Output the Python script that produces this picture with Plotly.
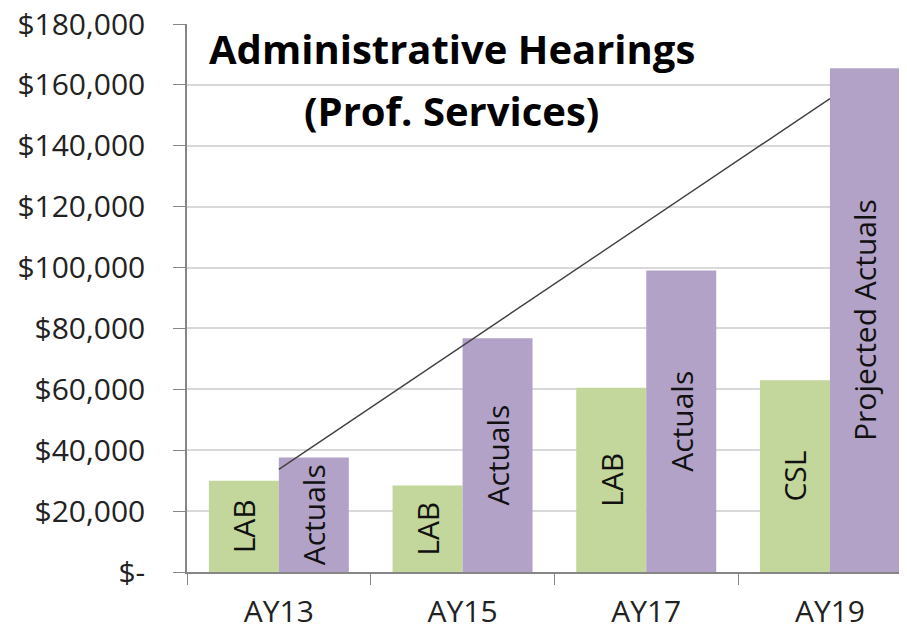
import plotly.graph_objects as go

# values
years = ["AY13", "AY15", "AY17", "AY19"]
budget = [30000, 28400, 60500, 63000]
budget_labels = ["LAB", "LAB", "LAB", "CSL"]
actuals = [37600, 76800, 99000, 165500]
actuals_labels = ["Actuals", "Actuals", "Actuals", "Projected Actuals"]

# linear trendline of actuals, read at first and last year
trend_years = ["AY13", "AY19"]
trend_values = [33700, 155500]

y_ticks = [0, 20000, 40000, 60000, 80000, 100000, 120000, 140000, 160000, 180000]
y_tick_text = ["$-"] + ["${:,}".format(v) for v in y_ticks[1:]]

font_family = "Open Sans, Liberation Sans, sans-serif"
green = "#C3D69B"
purple = "#B3A2C7"

fig = go.Figure()

# budget bars (green)
fig.add_trace(go.Bar(
    x=years, y=budget, name="Budget",
    marker=dict(color=green, line=dict(width=0)),
    text=budget_labels, textposition="inside", insidetextanchor="middle",
    textangle=-90, constraintext="none",
    textfont=dict(family=font_family, size=30, color="#111111"),
))

# actuals bars (purple)
fig.add_trace(go.Bar(
    x=years, y=actuals, name="Actuals",
    marker=dict(color=purple, line=dict(width=0)),
    text=actuals_labels, textposition="inside", insidetextanchor="middle",
    textangle=-90, constraintext="none",
    textfont=dict(family=font_family, size=30, color="#111111"),
))

# trendline
fig.add_trace(go.Scatter(
    x=trend_years, y=trend_values, mode="lines",
    line=dict(color="#404040", width=1.4),
    showlegend=False, hoverinfo="skip",
))

# chart title, two lines placed inside the plot area
fig.add_annotation(
    text="<b>Administrative Hearings</b>",
    xref="paper", yref="paper", x=0.364, y=0.955,
    xanchor="center", yanchor="middle", showarrow=False,
    font=dict(family=font_family, size=40, color="#000000"),
)
fig.add_annotation(
    text="<b>(Prof. Services)</b>",
    xref="paper", yref="paper", x=0.364, y=0.842,
    xanchor="center", yanchor="middle", showarrow=False,
    font=dict(family=font_family, size=40, color="#000000"),
)

# page body adds 8px around the figure, so margins are trimmed by that much
fig.update_layout(
    width=907, height=631,
    margin=dict(l=179, r=0, t=16, b=67),
    paper_bgcolor="white", plot_bgcolor="white",
    barmode="group", bargap=0.238, bargroupgap=0,
    showlegend=False,
    font=dict(family=font_family, size=30, color="#222222"),
)

fig.update_xaxes(
    type="category", categoryorder="array", categoryarray=years,
    range=[-0.5, 3.463], automargin=False,
    showline=True, linecolor="#868686", linewidth=1.5,
    ticks="outside", tickson="boundaries", ticklen=11, tickcolor="#868686",
    ticklabelstandoff=12, ticklabeloverflow="allow",
    showgrid=False,
    tickfont=dict(family=font_family, size=30, color="#222222"),
)

fig.update_yaxes(
    range=[0, 180000], automargin=False,
    tickvals=y_ticks, ticktext=y_tick_text,
    showline=True, linecolor="#868686", linewidth=1.5,
    ticks="outside", ticklen=12, tickcolor="#868686",
    ticklabelstandoff=22, ticklabeloverflow="allow",
    showgrid=True, gridcolor="#D9D9D9", gridwidth=1.5,
    zeroline=False,
    tickfont=dict(family=font_family, size=30, color="#222222"),
)

fig.write_html("out.html")
